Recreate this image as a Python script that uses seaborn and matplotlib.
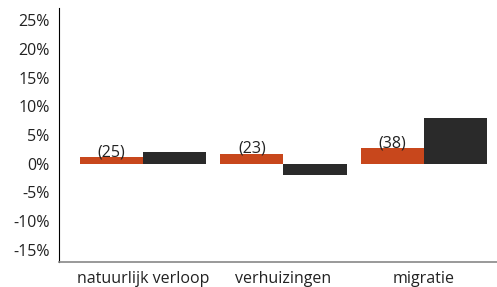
import pandas as pd
import matplotlib
matplotlib.use("Agg")
import matplotlib.pyplot as plt
import seaborn as sns

categories = ["natuurlijk verloop", "verhuizingen", "migratie"]
groep_a = [1.1, 1.7, 2.7]
groep_b = [2.0, -1.9, 7.9]
aantallen = ["(25)", "(23)", "(38)"]
y_ticks = [-15, -10, -5, 0, 5, 10, 15, 20, 25]

df = pd.DataFrame({
    "categorie": categories * 2,
    "waarde": groep_a + groep_b,
    "groep": ["a"] * 3 + ["b"] * 3,
})

sns.set_style("white")
plt.rcParams["font.family"] = ["Open Sans", "DejaVu Sans"]

fig = plt.figure(figsize=(4.97, 2.87), dpi=100)
ax = fig.add_axes([0.118, 0.087, 0.882, 0.885])
sns.barplot(data=df, x="categorie", y="waarde", hue="groep",
            palette=["#c8471c", "#2a2a2a"], width=0.9, saturation=1,
            linewidth=0, legend=False, ax=ax)

for i, lab in enumerate(aantallen):
    ax.text(i - 0.225, groep_a[i] - 0.5, lab, ha="center", va="bottom",
            fontsize=11.5, color="#222222")

ax.set_xlim(-0.6, 2.52)
ax.set_ylim(-17.1, 27.1)
ax.set_yticks(y_ticks)
ax.set_yticklabels([f"{t}%" for t in y_ticks])
ax.set_xlabel("")
ax.set_ylabel("")
ax.tick_params(axis="both", labelsize=11.5, colors="#222222", length=3, width=1)
ax.tick_params(axis="x", color="#777777")
ax.tick_params(axis="y", color="#777777")
for s in ["top", "right"]:
    ax.spines[s].set_visible(False)
ax.spines["left"].set_color("#000000")
ax.spines["bottom"].set_color("#888888")
ax.spines["bottom"].set_linewidth(1.2)

fig.savefig("out.png", dpi=100)
